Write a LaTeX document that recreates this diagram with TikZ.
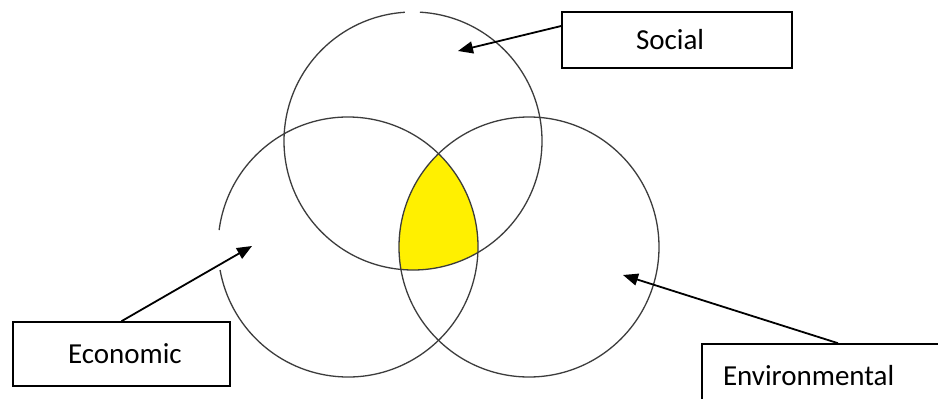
\documentclass[tikz,border=0pt]{standalone}
\usepackage{fontspec}
\setmainfont{Carlito}
\usetikzlibrary{arrows.meta}
\definecolor{ringgray}{RGB}{60,60,60}
\definecolor{venn}{RGB}{255,240,0}
\begin{document}
\begin{tikzpicture}[x=1pt,y=-1pt,
  ring/.style={draw=ringgray,line width=1.3pt},
  labelbox/.style={draw=black,line width=1.6pt,fill=white,inner ysep=0pt,align=left,
    font=\fontsize{29}{34}\selectfont},
  pointer/.style={draw=black,line width=1.8pt,-{Triangle[length=15pt,width=12pt]}}]
\clip (0,0) rectangle (938,399);
\fill[white] (0,0) rectangle (938,399);
% circle centres
\coordinate (cs) at (413,141);
\coordinate (ce) at (348,247);
\coordinate (cv) at (529,247);
% yellow intersection
\begin{scope}
  \clip (cs) circle[radius=129];
  \clip (ce) circle[radius=130];
  \fill[venn] (cv) circle[radius=130];
\end{scope}
% circles (with small gaps as in the reference)
\draw[ring] (cs) ++(273.1:129) arc[start angle=273.1,end angle=626.4,radius=129];
\draw[ring] (ce) ++(187.5:130) arc[start angle=187.5,end angle=529.8,radius=130];
\draw[ring] (cv) circle[radius=130];
% label boxes
\node[labelbox,minimum height=56pt,text width=82pt,inner xsep=74pt] (social) at (677,40) {Social};
\node[labelbox,minimum height=64pt,text width=107pt,inner xsep=55pt] (economic) at (121.5,354) {Economic};
\node[labelbox,minimum height=64pt,text width=201pt,inner xsep=21pt] (environmental) at (823.5,376) {Environmental};
% arrow targets
\coordinate (ts) at (458,51);
\coordinate (te) at (252,246);
\coordinate (tv) at (623,275);
\draw[pointer] ([yshift=14pt]social.west) -- (ts);
\draw[pointer] (economic.north) -- (te);
\draw[pointer] ([xshift=14.5pt]environmental.north) -- (tv);
\end{tikzpicture}
\end{document}
